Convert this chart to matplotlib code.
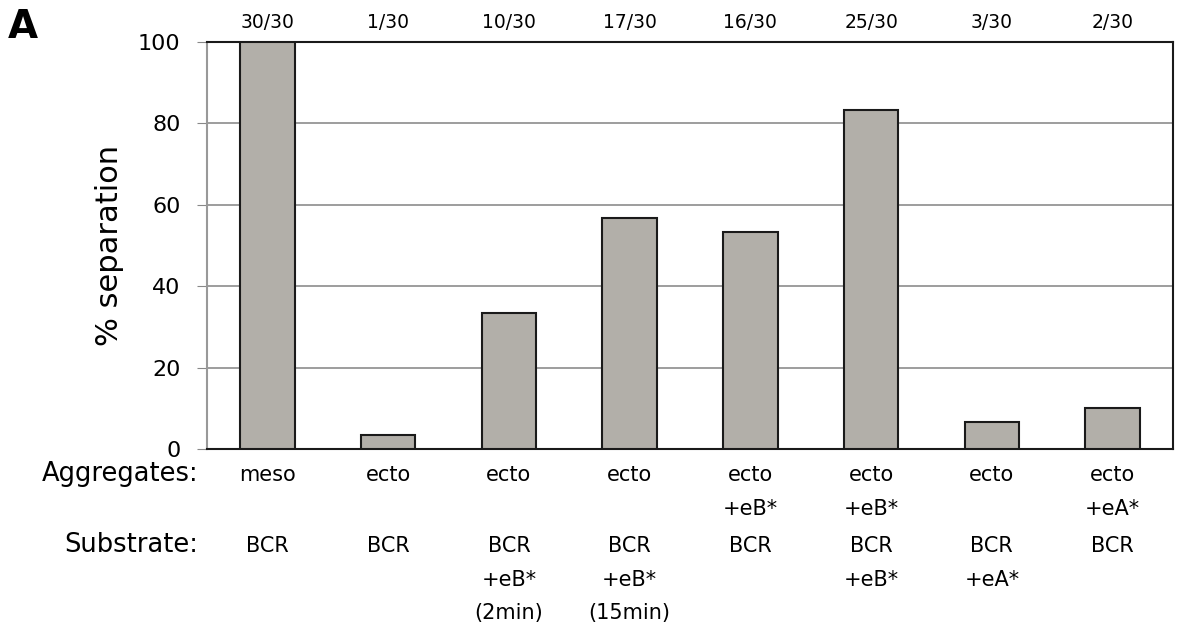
import matplotlib.pyplot as plt
import matplotlib.transforms as mtransforms
import numpy as np

# % separation per condition
values = [100, 3.33, 33.33, 56.67, 53.33, 83.33, 6.67, 10.0]
counts = ["30/30", "1/30", "10/30", "17/30", "16/30", "25/30", "3/30", "2/30"]
aggregates = ["meso", "ecto", "ecto", "ecto", "ecto\n+eB*", "ecto\n+eB*", "ecto", "ecto\n+eA*"]
substrate = ["BCR", "BCR", "BCR\n+eB*\n(2min)", "BCR\n+eB*\n(15min)", "BCR",
             "BCR\n+eB*", "BCR\n+eA*", "BCR"]

W, H = 1187, 638
fig = plt.figure(figsize=(W / 100, H / 100), dpi=100)
ax = fig.add_axes([207 / W, 1 - 449 / H, (1173 - 207) / W, (449 - 42) / H])

x = np.arange(len(values))
ax.bar(x, values, width=0.45, color="#b2afa9", edgecolor="#1a1a1a", linewidth=1.5, zorder=3)

ax.set_xlim(-0.5, len(values) - 0.5)
ax.set_ylim(0, 100)
ax.set_yticks([0, 20, 40, 60, 80, 100])
ax.tick_params(axis="y", labelsize=16, length=7, color="#888888", pad=12)
ax.set_xticks([])
ax.grid(axis="y", color="#8c8c8c", linewidth=1.2, zorder=0)
for s in ["top", "right", "bottom"]:
    ax.spines[s].set_color("#1a1a1a")
    ax.spines[s].set_linewidth(1.5)
ax.spines["left"].set_color("#999999")
ax.spines["left"].set_linewidth(1.5)
ax.set_ylabel("% separation", fontsize=22, labelpad=10)

# labels in data x, figure y
tr = mtransforms.blended_transform_factory(ax.transData, fig.transFigure)
for i in range(len(values)):
    ax.text(x[i], 1 - 22 / H, counts[i], transform=tr, ha="center", va="center", fontsize=13.5)
    ax.text(x[i], 1 - 465 / H, aggregates[i], transform=tr, ha="center", va="top",
            fontsize=15, linespacing=1.85)
    ax.text(x[i], 1 - 536 / H, substrate[i], transform=tr, ha="center", va="top",
            fontsize=15, linespacing=1.85)

fig.text(198 / W, 1 - 474 / H, "Aggregates:", ha="right", va="center", fontsize=18.5)
fig.text(198 / W, 1 - 545 / H, "Substrate:", ha="right", va="center", fontsize=18.5)
fig.text(8 / W, 1 - 27 / H, "A", ha="left", va="center", fontsize=28, fontweight="bold")

fig.savefig("out.png", dpi=100, facecolor="white")
